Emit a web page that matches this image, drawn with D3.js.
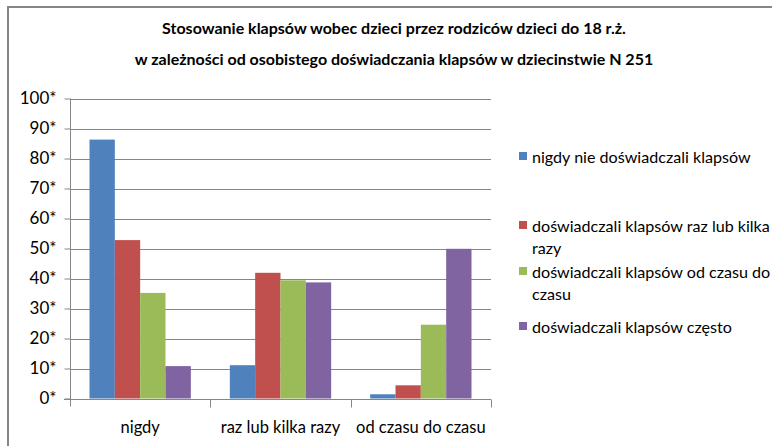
<!DOCTYPE html>
<html lang="pl">
<head>
<meta charset="utf-8">
<script src="https://d3js.org/d3.v7.min.js"></script>
<style>
  body { margin: 0; background: #fff; }
  svg text { font-family: Lato, "Open Sans", sans-serif; fill: #000; }
</style>
</head>
<body>
<svg id="chart" width="772" height="446"></svg>
<script>
// data
let titleLines = ["Stosowanie klapsów wobec dzieci przez rodziców dzieci do 18 r.ż.",
                  "w zależności od osobistego doświadczania klapsów w dziecinstwie N 251"]
let categories = ["nigdy", "raz lub kilka razy", "od czasu do czasu"]
let seriesNames = ["nigdy nie doświadczali klapsów",
                   "doświadczali klapsów raz lub kilka razy",
                   "doświadczali klapsów od czasu do czasu",
                   "doświadczali klapsów często"]
let neverValues = [86.3, 11.1, 1.4]
let onceValues = [52.8, 41.9, 4.4]
let sometimesValues = [35.2, 39.4, 24.6]
let oftenValues = [10.8, 38.7, 49.9]
let tickValues = [0, 10, 20, 30, 40, 50, 60, 70, 80, 90, 100]
let tickLabels = ["0*", "10*", "20*", "30*", "40*", "50*", "60*", "70*", "80*", "90*", "100*"]
let colors = ["#4F81BD", "#C0504D", "#9BBB59", "#8064A2"]

let seriesValues = [neverValues, onceValues, sometimesValues, oftenValues]

let svg = d3.select("#chart")

// outer frame (only top and left edges are visible in the picture)
svg.append("path").attr("d", "M8,446 V7 H772").attr("fill", "none")
  .attr("stroke", "#868686").attr("stroke-width", 2)

// title
svg.append("g").selectAll("text").data(titleLines).enter().append("text")
  .attr("x", 394).attr("y", (d, i) => 34 + i * 31)
  .attr("text-anchor", "middle").attr("font-size", 16).attr("font-weight", "bold")
  .text(d => d)

let plotLeft = 70, plotRight = 491, plotTop = 98.5, plotBottom = 398.5
let x0 = d3.scaleBand().domain(categories).range([plotLeft, plotRight]).padding(0)
let x1 = d3.scaleBand().domain(d3.range(seriesNames.length)).range([19.5, x0.bandwidth() - 19.5]).padding(0)
let y = d3.scaleLinear().domain([0, 100]).range([plotBottom, plotTop])

// gridlines
svg.append("g").selectAll("line").data(tickValues.slice(1)).enter().append("line")
  .attr("x1", plotLeft).attr("x2", plotRight)
  .attr("y1", d => Math.round(y(d)) + 0.5).attr("y2", d => Math.round(y(d)) + 0.5)
  .attr("stroke", "#868686")

// bars
let groups = svg.append("g").selectAll("g").data(categories).enter().append("g")
  .attr("transform", d => `translate(${x0(d)},0)`)
groups.selectAll("rect").data((c, ci) => seriesValues.map((vals, si) => ({si: si, v: vals[ci]})))
  .enter().append("rect")
  .attr("x", d => x1(d.si)).attr("width", x1.bandwidth())
  .attr("y", d => y(d.v)).attr("height", d => y(0) - y(d.v))
  .attr("fill", d => colors[d.si])

// y axis
let yAxis = svg.append("g").attr("transform", `translate(${plotLeft + 0.5},0)`)
  .call(d3.axisLeft(y).tickValues(tickValues).tickSize(6).tickPadding(8)
    .tickFormat((d, i) => tickLabels[i]))
yAxis.select(".domain").attr("d", `M0,${plotTop} V${plotBottom + 8}`).attr("stroke", "#868686")
yAxis.selectAll(".tick line").attr("stroke", "#868686")
yAxis.selectAll("text").attr("font-size", 17).attr("font-family", null)

// x axis
let xAxis = svg.append("g").attr("transform", `translate(0,${Math.round(plotBottom) + 0.5})`)
  .call(d3.axisBottom(x0).tickSize(0).tickPadding(22))
xAxis.select(".domain").attr("d", `M${plotLeft - 6},0 H${plotRight}`).attr("stroke", "#868686")
xAxis.selectAll("text").attr("font-size", 16.5).attr("font-family", null)
xAxis.selectAll(".divider").data(categories).enter().append("line").attr("class", "divider")
  .attr("x1", d => Math.round(x0(d) + x0.bandwidth()) + 0.5)
  .attr("x2", d => Math.round(x0(d) + x0.bandwidth()) + 0.5)
  .attr("y1", 0).attr("y2", 8).attr("stroke", "#868686")

// legend
let legendY = [158, 227, 273, 328]
let legend = svg.append("g").selectAll("g").data(seriesNames).enter().append("g")
  .attr("transform", (d, i) => `translate(519,${legendY[i]})`)
legend.append("rect").attr("x", 0).attr("y", -6).attr("width", 8).attr("height", 8)
  .attr("fill", (d, i) => colors[i])
legend.append("text").attr("x", 13).attr("y", 5).attr("font-size", 16.1)
  .each(function(d) {
    let t = d3.select(this)
    let words = d.split(" ")
    let line = []
    let tspan = t.append("tspan").attr("x", 13).attr("dy", 0)
    words.forEach(w => {
      line.push(w)
      tspan.text(line.join(" "))
      if (tspan.node().getComputedTextLength() > 242 && line.length > 1) {
        line.pop()
        tspan.text(line.join(" "))
        line = [w]
        tspan = t.append("tspan").attr("x", 13).attr("dy", 22).text(w)
      }
    })
  })
</script>
</body>
</html>
